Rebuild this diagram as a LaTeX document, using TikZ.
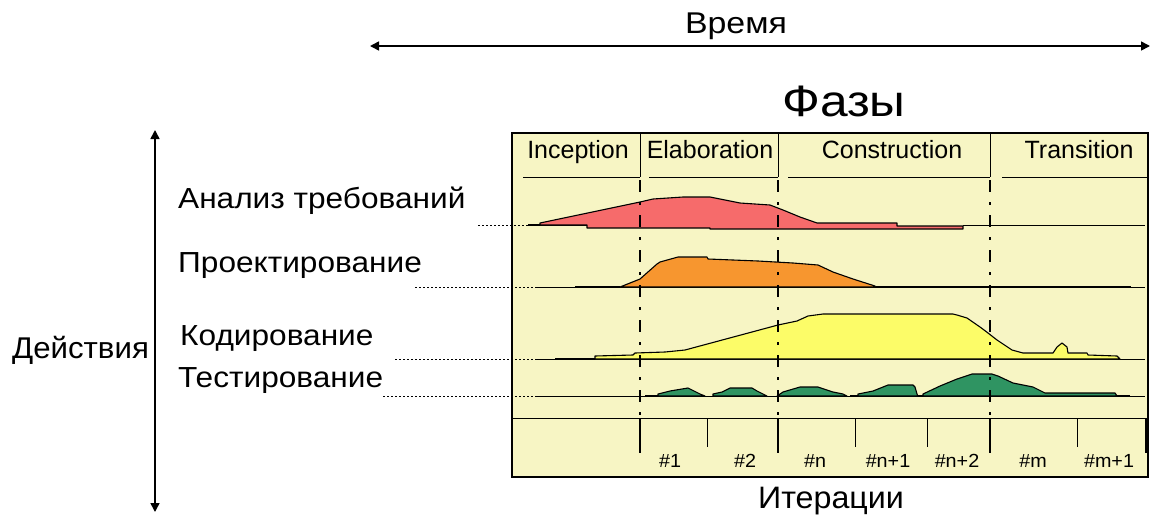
\documentclass[tikz,border=0pt]{standalone}
\usepackage{fontspec}
\setmainfont{Liberation Sans}
\newfontfamily\actfont[FakeStretch=1.09]{Liberation Sans}
\newfontfamily\titlefont[FakeStretch=1.13]{Liberation Sans}
\newfontfamily\midfont[FakeStretch=1.04]{Liberation Sans}
\usetikzlibrary{arrows.meta}
\definecolor{bgy}{HTML}{F7F5C4}
\definecolor{cred}{HTML}{F66B6B}
\definecolor{corange}{HTML}{F7962F}
\definecolor{cyellow}{HTML}{FCFC68}
\definecolor{cgreen}{HTML}{2F9462}
\tikzset{
  axisarrow/.style={line width=1.6pt,{Triangle[length=9pt,width=9pt]}-{Triangle[length=9pt,width=9pt]}},
  actlabel/.style={anchor=base west,inner sep=0pt,font=\actfont\fontsize{29}{32}\selectfont},
  phaselabel/.style={anchor=base,inner sep=0pt,font=\fontsize{25}{28}\selectfont},
  iterlabel/.style={anchor=base,inner sep=0pt,font=\midfont\fontsize{19}{21}\selectfont},
  curve/.style={draw=black,line width=1.1pt,line join=round},
  baseline/.style={line width=1pt},
  thickseg/.style={line width=2.4pt},
  leader/.style={line width=0.9pt,dash pattern=on 2pt off 2pt},
  phaseline/.style={line width=1.2pt,dash pattern=on 12pt off 10pt on 3pt off 10pt},
  rowline/.style={line width=1pt},
}
\begin{document}
\begin{tikzpicture}[x=1pt,y=-1pt]
\useasboundingbox (0,0) rectangle (1151,515);
% main box
\fill[bgy] (512,133) rectangle (1148,477);
% labels
\node[anchor=base,inner sep=0pt,font=\titlefont\fontsize{30}{33}\selectfont] (time) at (736,33) {Время};
\coordinate (tl) at (370,46);
\coordinate (tr) at (1150,46);
\draw[axisarrow] (tl) -- (tr);
\node[anchor=base,inner sep=0pt,font=\titlefont\fontsize{44}{48}\selectfont] (phases) at (844,116) {Фазы};
\coordinate (vt) at (155,130);
\coordinate (vb) at (155,512);
\draw[axisarrow] (vt) -- (vb);
\node[anchor=base west,inner sep=0pt,font=\midfont\fontsize{30}{33}\selectfont] (act) at (12,358) {Действия};
\node[actlabel] (req) at (178,208) {Анализ требований};
\node[actlabel] (des) at (178,272) {Проектирование};
\node[actlabel] (cod) at (180,345) {Кодирование};
\node[actlabel] (tst) at (178,387) {Тестирование};
% header
\node[phaselabel] (inc) at (578,158) {Inception};
\node[phaselabel] (ela) at (710,158) {Elaboration};
\node[phaselabel] (con) at (892,158) {Construction};
\node[phaselabel] (tra) at (1079,158) {Transition};
\draw[rowline] (640,133) -- (640,177) (778,133) -- (778,177) (990,133) -- (990,177);
\draw[rowline] (523,177) -- (640,177) (649,177) -- (778,177) (788,177) -- (990,177) (1002,177) -- (1148,177);
% leaders
\coordinate (lr) at (478,225);
\coordinate (lo) at (415,287);
\coordinate (ly) at (395,359);
\coordinate (lg) at (383,396);
\draw[leader] (lr) -- (528,225);
\draw[leader] (lo) -- (535,287);
\draw[leader] (ly) -- (537,359);
\draw[leader] (lg) -- (537,396);
% red
\draw[baseline] (528,225) -- (587,225) (963,225) -- (1145,225);
\draw[thickseg] (528,225) -- (540,225);
\filldraw[cred,curve] (540,225) -- (540,223) -- (640,202) -- (653,199) -- (683,197) -- (710,197) -- (740,203) -- (770,205) -- (783,210) -- (800,217) -- (817,223) -- (897,223) -- (897,226) -- (963,226) -- (963,229) -- (710,229) -- (710,228) -- (587,228) -- (587,225) -- cycle;
% orange
\draw[baseline] (535,287) -- (1145,287);
\draw[thickseg] (575,287) -- (620,287) (875,287) -- (1131,287);
\filldraw[corange,curve] (620,287) -- (640,279) -- (657,264) -- (660,262) -- (678,257) -- (707,257) -- (708,259) -- (758,261) -- (793,263) -- (818,265) -- (833,272) -- (853,279) -- (875,286) -- (875,287) -- cycle;
% yellow
\draw[baseline] (537,359) -- (1145,359);
\draw[thickseg] (555,359) -- (595,359);
\filldraw[cyellow,curve] (595,359) -- (595,356) -- (633,355) -- (635,353) -- (665,352) -- (685,350) -- (778,325) -- (797,321) -- (808,316) -- (823,314) -- (953,314) -- (957,315) -- (967,318) -- (980,327) -- (988,333) -- (997,340) -- (1012,350) -- (1023,353) -- (1053,353) -- (1057,347) -- (1062,343) -- (1067,347) -- (1068,353) -- (1087,353) -- (1088,355) -- (1117,356) -- (1120,359) -- cycle;
% green
\draw[baseline] (537,396) -- (1145,396);
\draw[thickseg] (645,396) -- (658,396) (850,396) -- (858,396) (918,396) -- (923,396) (1115,396) -- (1130,396);
\filldraw[cgreen,curve] (658,396) -- (658,394) -- (670,391) -- (682,389) -- (688,388) -- (692,390) -- (700,394) -- (705,396) -- cycle;
\filldraw[cgreen,curve] (713,396) -- (713,394) -- (722,392) -- (730,388) -- (752,388) -- (757,391) -- (763,394) -- (767,396) -- cycle;
\filldraw[cgreen,curve] (777,396) -- (783,392) -- (800,387) -- (818,387) -- (833,392) -- (843,394) -- (847,396) -- cycle;
\filldraw[cgreen,curve] (858,396) -- (858,394) -- (873,391) -- (888,385) -- (913,385) -- (915,387) -- (917,394) -- (918,396) -- cycle;
\filldraw[cgreen,curve] (923,396) -- (923,394) -- (940,386) -- (957,379) -- (972,374) -- (992,374) -- (998,376) -- (1013,383) -- (1033,387) -- (1045,393) -- (1115,393) -- (1117,396) -- cycle;
% phase lines
\draw[phaseline] (640,180) -- (640,418);
\draw[phaseline] (778,180) -- (778,418);
\draw[phaseline] (990,180) -- (990,418);
% iteration row
\draw[rowline] (512,418) -- (1148,418);
\draw[line width=2.6pt] (640,418) -- (640,453) (778,418) -- (778,453) (990,418) -- (990,453) (1146,418) -- (1146,453);
\draw[line width=1pt] (707,418) -- (707,447) (855,418) -- (855,447) (927,418) -- (927,447) (1077,418) -- (1077,447);
\node[iterlabel] (i1) at (670,467) {\#1};
\node[iterlabel] (i2) at (745,467) {\#2};
\node[iterlabel] (i3) at (815,467) {\#n};
\node[iterlabel] (i4) at (888,467) {\#n+1};
\node[iterlabel] (i5) at (957,467) {\#n+2};
\node[iterlabel] (i6) at (1033,467) {\#m};
\node[iterlabel] (i7) at (1109,467) {\#m+1};
\node[anchor=base,inner sep=0pt,font=\midfont\fontsize{31}{34}\selectfont] (iters) at (831,508) {Итерации};
% box outline
\draw[line width=1.4pt] (512,133) rectangle (1148,477);
\end{tikzpicture}
\end{document}
